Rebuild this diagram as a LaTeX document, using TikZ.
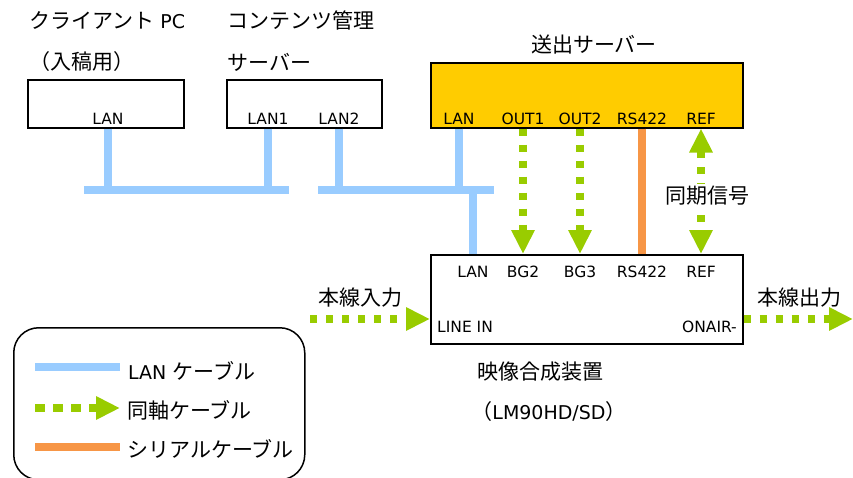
\documentclass[tikz,border=0pt]{standalone}
\usepackage{fontspec}
\setmainfont{DejaVu Sans}
\newfontfamily\jp{Noto Sans CJK JP}
\newcommand\Jtxt[1]{{\jp\fontsize{21}{25}\selectfont #1}}
\usetikzlibrary{arrows.meta}
\definecolor{lanblue}{HTML}{99CCFF}
\definecolor{coaxgreen}{HTML}{99CC00}
\definecolor{serialorange}{HTML}{F79646}
\definecolor{servergold}{HTML}{FFCC00}
\begin{document}
\begin{tikzpicture}[x=1pt,y=-1pt,
  devbox/.style={draw=black, line width=1.5pt, inner sep=0pt, anchor=north west},
  title/.style={font=\fontsize{19}{23}\selectfont, inner sep=0pt},
  jtext/.style={font=\jp\fontsize{21}{25}\selectfont, inner sep=0pt},
  port/.style={font=\fontsize{15.5}{18}\selectfont, inner sep=0pt},
  lancable/.style={draw=lanblue, line width=7.5pt},
  serialcable/.style={draw=serialorange, line width=7.5pt},
  coaxcable/.style={draw=coaxgreen, line width=7.5pt, dash pattern=on 7pt off 9pt},
  coaxtip/.tip={Triangle[length=24pt,width=22pt]}
]
\useasboundingbox (0,0) rectangle (853,477);

% ---- client PC
\node[title, anchor=west] (pcT1) at (29,20) {\Jtxt{クライアント} PC};
\node[jtext, anchor=west] (pcT2) at (29,62) {（入稿用）};
\node[devbox, minimum width=156pt, minimum height=48pt] (pc) at (27,79) {};
\node[port] (pcLAN) at (108,119) {LAN};

% ---- contents server
\node[jtext, anchor=west] (csT1) at (227,20) {コンテンツ管理};
\node[jtext, anchor=west] (csT2) at (227,62) {サーバー};
\node[devbox, minimum width=155pt, minimum height=48pt] (cs) at (226,79) {};
\node[port] (csLAN1) at (268,119) {LAN1};
\node[port] (csLAN2) at (339,119) {LAN2};

% ---- send server
\node[jtext] (ssT) at (594,45) {送出サーバー};
\node[devbox, fill=servergold, minimum width=312pt, minimum height=65pt] (ss) at (430,62) {};
\node[port] (ssLAN) at (459,119) {LAN};
\node[port] (ssOUT1) at (523,119) {OUT1};
\node[port] (ssOUT2) at (580,119) {OUT2};
\node[port] (ssRS) at (642,119) {RS422};
\node[port] (ssREF) at (701,119) {REF};

% ---- mixer
\node[devbox, minimum width=312pt, minimum height=89pt] (mx) at (430,254) {};
\node[port] (mxLAN) at (473,272) {LAN};
\node[port] (mxBG2) at (523,272) {BG2};
\node[port] (mxBG3) at (580,272) {BG3};
\node[port] (mxRS) at (642,272) {RS422};
\node[port] (mxREF) at (701,272) {REF};
\node[port, anchor=west] (mxIN) at (437,327) {LINE IN};
\node[port, anchor=east] (mxOUT) at (737,327) {ONAIR-};
\node[jtext] (mxT1) at (540,372) {映像合成装置};
\node[title] (mxT2) at (549,412) {\Jtxt{（}LM90HD/SD\Jtxt{）}};

% ---- LAN network
\coordinate (bus1L) at (84,190);
\coordinate (bus1R) at (289,190);
\coordinate (bus2L) at (318,190);
\coordinate (bus2R) at (494,190);
\draw[lancable] (bus1L) -- (bus1R);
\draw[lancable] (bus2L) -- (bus2R);
\draw[lancable] (pcLAN |- pc.south) -- (pcLAN |- bus1L);
\draw[lancable] (csLAN1 |- cs.south) -- (csLAN1 |- bus1L);
\draw[lancable] (csLAN2 |- cs.south) -- (csLAN2 |- bus2L);
\draw[lancable] (ssLAN |- ss.south) -- (ssLAN |- bus2L);
\draw[lancable] (mxLAN |- bus2L) -- (mxLAN |- mx.north);

% ---- coax / serial
\draw[coaxcable, -coaxtip] (ssOUT1 |- ss.south) -- (ssOUT1 |- mx.north);
\draw[coaxcable, -coaxtip] (ssOUT2 |- ss.south) -- (ssOUT2 |- mx.north);
\draw[serialcable] (ssRS |- ss.south) -- (ssRS |- mx.north);
\draw[coaxcable, coaxtip-coaxtip] (ssREF |- ss.south) -- (ssREF |- mx.north);
\node[jtext, fill=white, inner sep=2pt] (sync) at (707,196) {同期信号};

% ---- main line in / out
\coordinate (inStart) at (310,319);
\coordinate (outEnd) at (853,319);
\draw[coaxcable, -coaxtip] (inStart) -- (mx.west |- inStart);
\draw[coaxcable, -coaxtip] (mx.east |- outEnd) -- (outEnd);
\node[jtext] (inT) at (360,298) {本線入力};
\node[jtext] (outT) at (799,298) {本線出力};

% ---- legend
\node[draw=black, line width=1.5pt, rounded corners=25pt, anchor=north west,
      minimum width=291pt, minimum height=152pt, inner sep=0pt] (legend) at (13,327) {};
\coordinate (lg1a) at (35,367); \coordinate (lg1b) at (120,367);
\coordinate (lg2a) at (35,408); \coordinate (lg2b) at (120,408);
\coordinate (lg3a) at (35,447); \coordinate (lg3b) at (120,447);
\draw[lancable] (lg1a) -- (lg1b);
\draw[coaxcable, dash pattern=on 10pt off 8pt, -coaxtip] (lg2a) -- (lg2b);
\draw[serialcable] (lg3a) -- (lg3b);
\node[title, anchor=west] (lgT1) at (128,371) {LAN \Jtxt{ケーブル}};
\node[jtext, anchor=west] (lgT2) at (127,410) {同軸ケーブル};
\node[jtext, anchor=west] (lgT3) at (127,449) {シリアルケーブル};
\end{tikzpicture}
\end{document}
